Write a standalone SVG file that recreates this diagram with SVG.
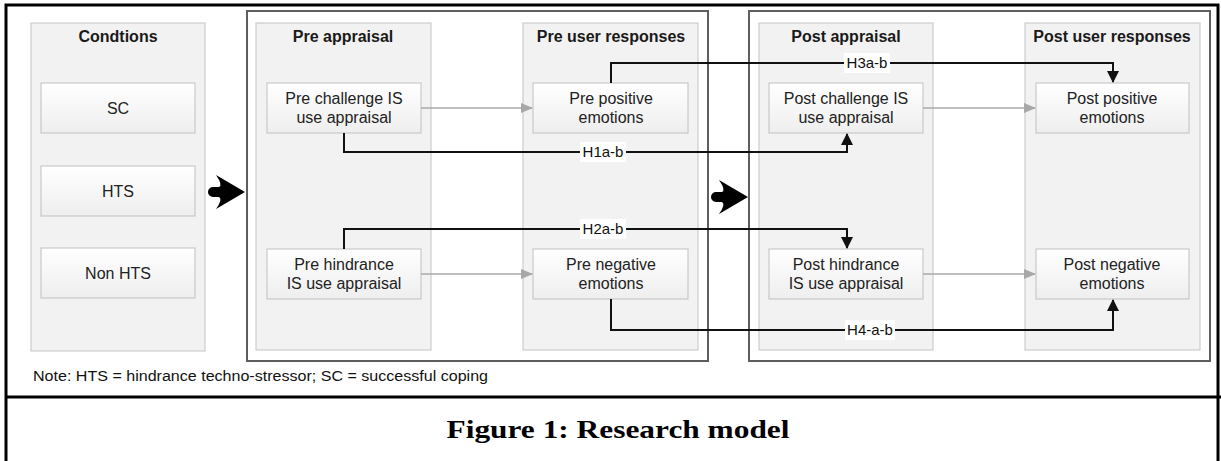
<svg xmlns="http://www.w3.org/2000/svg" width="1221" height="461" viewBox="0 0 1221 461">
<style>
.col{fill:#f2f2f2;stroke:#c4c4c4;stroke-width:1}
.node{fill:url(#ng);stroke:#c0c0c0;stroke-width:1}
.grp{fill:#ffffff;stroke:#5e5e5e;stroke-width:2}
.title{font-family:"Liberation Sans",Arial,sans-serif;font-size:16px;font-weight:bold;fill:#1a1a1a;text-anchor:middle}
.t{font-family:"Liberation Sans",Arial,sans-serif;font-size:16px;fill:#222;text-anchor:middle}
.lab{font-family:"Liberation Sans",Arial,sans-serif;font-size:15px;fill:#111;text-anchor:middle}
.lbg{fill:#ffffff}
.c{fill:none;stroke:#111;stroke-width:2}
.g{fill:none;stroke:#a8a8a8;stroke-width:1.5}
</style>
<defs>
<linearGradient id="ng" x1="0" y1="0" x2="0" y2="1">
<stop offset="0" stop-color="#ffffff"/>
<stop offset="1" stop-color="#eeeeee"/>
</linearGradient>
<marker id="ab" markerWidth="12" markerHeight="12" refX="11" refY="6" orient="auto" markerUnits="userSpaceOnUse">
<path d="M0,0 L12,6 L0,12 Z" fill="#111"/>
</marker>
<marker id="ag" markerWidth="12" markerHeight="12" refX="11" refY="6" orient="auto" markerUnits="userSpaceOnUse">
<path d="M0,1 L12,6 L0,11 Z" fill="#a8a8a8"/>
</marker>
</defs>
<rect x="0" y="0" width="1221" height="461" fill="#ffffff"/>
<!-- outer frame -->
<rect x="6" y="5" width="1212" height="470" fill="none" stroke="#000" stroke-width="3"/>
<line x1="6" y1="397" x2="1221" y2="397" stroke="#000" stroke-width="3"/>

<!-- group containers -->
<g id="pre-group"><rect class="grp" x="247" y="11" width="461" height="350"/></g>
<g id="post-group"><rect class="grp" x="749" y="11" width="461" height="350"/></g>

<!-- columns -->
<g id="conditions"><rect class="col" x="31" y="23" width="174" height="328"/><text class="title" x="118" y="42">Condtions</text></g>
<g id="pre-appraisal"><rect class="col" x="256" y="23" width="175" height="327"/><text class="title" x="343" y="42">Pre appraisal</text></g>
<g id="pre-user-responses"><rect class="col" x="523" y="23" width="175" height="327"/><text class="title" x="611" y="42">Pre user responses</text></g>
<g id="post-appraisal"><rect class="col" x="759" y="23" width="174" height="327"/><text class="title" x="846" y="42">Post appraisal</text></g>
<g id="post-user-responses"><rect class="col" x="1025" y="23" width="175" height="327"/><text class="title" x="1112" y="42">Post user responses</text></g>

<!-- nodes -->
<g id="sc"><rect class="node" x="41" y="83" width="154" height="50"/><text class="t" x="118" y="114">SC</text></g>
<g id="hts"><rect class="node" x="41" y="166" width="154" height="50"/><text class="t" x="118" y="197">HTS</text></g>
<g id="non-hts"><rect class="node" x="41" y="248" width="154" height="50"/><text class="t" x="118" y="279">Non HTS</text></g>

<g id="pre-challenge"><rect class="node" x="267" y="83" width="154" height="50"/><text class="t" x="344" y="104">Pre challenge IS</text><text class="t" x="344" y="123">use appraisal</text></g>
<g id="pre-positive"><rect class="node" x="533" y="83" width="155" height="50"/><text class="t" x="611" y="104">Pre positive</text><text class="t" x="611" y="123">emotions</text></g>
<g id="pre-hindrance"><rect class="node" x="267" y="249" width="154" height="50"/><text class="t" x="344" y="270">Pre hindrance</text><text class="t" x="344" y="289">IS use appraisal</text></g>
<g id="pre-negative"><rect class="node" x="533" y="249" width="155" height="50"/><text class="t" x="611" y="270">Pre negative</text><text class="t" x="611" y="289">emotions</text></g>

<g id="post-challenge"><rect class="node" x="769" y="83" width="154" height="50"/><text class="t" x="846" y="104">Post challenge IS</text><text class="t" x="846" y="123">use appraisal</text></g>
<g id="post-positive"><rect class="node" x="1036" y="83" width="153" height="50"/><text class="t" x="1112" y="104">Post positive</text><text class="t" x="1112" y="123">emotions</text></g>
<g id="post-hindrance"><rect class="node" x="769" y="249" width="154" height="50"/><text class="t" x="846" y="270">Post hindrance</text><text class="t" x="846" y="289">IS use appraisal</text></g>
<g id="post-negative"><rect class="node" x="1036" y="249" width="153" height="50"/><text class="t" x="1112" y="270">Post negative</text><text class="t" x="1112" y="289">emotions</text></g>

<!-- connectors -->
<g id="connectors">
<line class="g" x1="421" y1="108" x2="532" y2="108" marker-end="url(#ag)"/>
<line class="g" x1="421" y1="274" x2="532" y2="274" marker-end="url(#ag)"/>
<line class="g" x1="923" y1="108" x2="1035" y2="108" marker-end="url(#ag)"/>
<line class="g" x1="923" y1="274" x2="1035" y2="274" marker-end="url(#ag)"/>

<path class="c" d="M344,133 V152 H847 V134" marker-end="url(#ab)"/>
<path class="c" d="M611,83 V63 H1113 V82" marker-end="url(#ab)"/>
<path class="c" d="M344,249 V229 H847 V248" marker-end="url(#ab)"/>
<path class="c" d="M611,299 V330 H1113 V300" marker-end="url(#ab)"/>

<rect class="lbg" x="580" y="142" width="46" height="20"/><text class="lab" x="603" y="157">H1a-b</text>
<rect class="lbg" x="844" y="53" width="46" height="20"/><text class="lab" x="867" y="68">H3a-b</text>
<rect class="lbg" x="580" y="219" width="46" height="20"/><text class="lab" x="603" y="234">H2a-b</text>
<rect class="lbg" x="845" y="320" width="50" height="20"/><text class="lab" x="870" y="335">H4-a-b</text>

<path d="M245,192 L216,175 Q223,185 219,187 L213,187 A5,5 0 0 0 213,197 L219,197 Q223,199 216,209 Z" fill="#000"/>
<path d="M748,197 L719,180 Q726,190 722,192 L716,192 A5,5 0 0 0 716,202 L722,202 Q726,204 719,214 Z" fill="#000"/>
</g>

<text x="33" y="381" font-family="'Liberation Sans',Arial,sans-serif" font-size="14" fill="#111" textLength="455" lengthAdjust="spacingAndGlyphs">Note: HTS = hindrance techno-stressor; SC = successful coping</text>
<text x="618" y="438" font-family="'Liberation Serif','Times New Roman',serif" font-size="25" font-weight="bold" fill="#000" text-anchor="middle" textLength="343" lengthAdjust="spacingAndGlyphs">Figure 1: Research model</text>
</svg>
